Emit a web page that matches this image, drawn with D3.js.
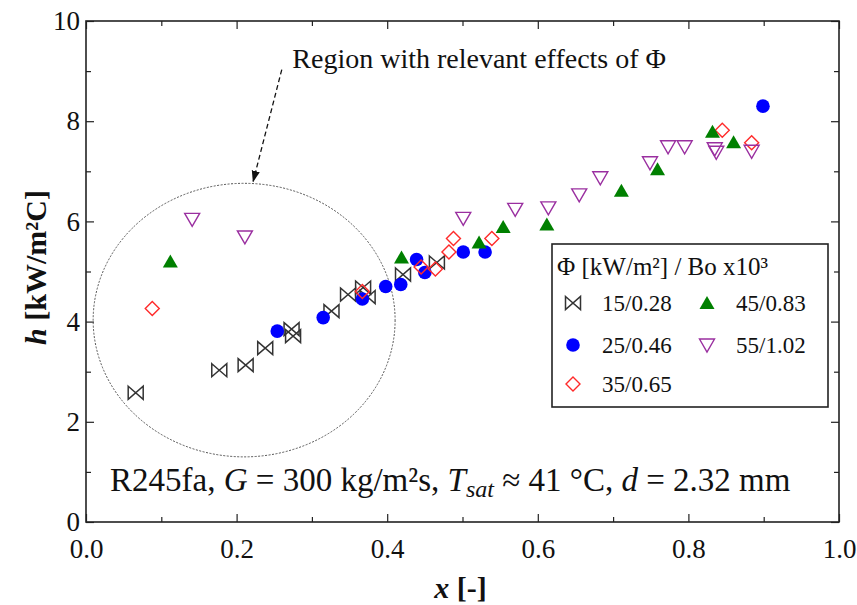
<!DOCTYPE html>
<html>
<head>
<meta charset="utf-8">
<script src="https://cdn.jsdelivr.net/npm/d3@7"></script>
<style>
  body { margin: 0; background: #fff; }
  svg text { font-family: "Liberation Serif", "Times New Roman", serif; fill: #111; }
</style>
</head>
<body>
<div id="chart"></div>
<script>
// quality x, heat transfer coefficient h [kW/m2C]
const s15 = [[0.066, 2.58], [0.177, 3.03], [0.212, 3.13], [0.238, 3.47], [0.273, 3.85], [0.275, 3.71],
  [0.326, 4.21], [0.348, 4.54], [0.368, 4.68], [0.374, 4.49], [0.421, 4.94], [0.466, 5.18]];
const s25 = [[0.254, 3.81], [0.315, 4.08], [0.367, 4.45], [0.398, 4.70], [0.418, 4.74], [0.439, 5.24],
  [0.450, 4.98], [0.501, 5.39], [0.530, 5.39], [0.899, 8.30]];
const s35 = [[0.088, 4.26], [0.367, 4.60], [0.445, 5.09], [0.464, 5.05], [0.482, 5.39], [0.488, 5.66],
  [0.539, 5.66], [0.845, 7.82], [0.884, 7.57]];
const s45 = [[0.112, 5.20], [0.419, 5.28], [0.522, 5.58], [0.554, 5.89], [0.612, 5.94], [0.711, 6.61],
  [0.759, 7.04], [0.832, 7.79], [0.860, 7.58]];
const s55 = [[0.141, 6.04], [0.211, 5.69], [0.501, 6.06], [0.570, 6.24], [0.614, 6.27], [0.655, 6.53],
  [0.683, 6.87], [0.749, 7.17], [0.773, 7.49], [0.795, 7.49], [0.835, 7.45], [0.837, 7.38], [0.884, 7.40]];

const seriesLabels = ['15/0.28', '25/0.46', '35/0.65', '45/0.83', '55/1.02'];
const xTicks = [0, 0.2, 0.4, 0.6, 0.8, 1.0];
const yTicks = [0, 2, 4, 6, 8, 10];
const xMinor = [0.1, 0.3, 0.5, 0.7, 0.9];
const yMinor = [1, 3, 5, 7, 9];

const outerWidth = 857;
const outerHeight = 605;
const margin = { top: 21, right: 18, bottom: 83, left: 86 };
const width = outerWidth - margin.left - margin.right;
const height = outerHeight - margin.top - margin.bottom;
const serif = '"Liberation Serif", "Times New Roman", serif';

const svg = d3.select('#chart').append('svg')
  .attr('width', outerWidth)
  .attr('height', outerHeight)
  .style('font-family', serif);

const g = svg.append('g')
  .attr('transform', `translate(${margin.left}, ${margin.top})`);

const x = d3.scaleLinear().domain([0, 1]).range([0, width]);
const y = d3.scaleLinear().domain([0, 10]).range([height, 0]);

// marker shapes
const shapes = {
  bowtie: 'M-7.5,-6.5L7.5,6.5L7.5,-6.5L-7.5,6.5Z',
  diamond: 'M0,-7L7,0L0,7L-7,0Z',
  triUp: 'M0,-7L7.5,6L-7.5,6Z',
  triDown: 'M-7.5,-6L7.5,-6L0,7Z'
};

const styles = [
  { data: s15, shape: 'bowtie', fill: 'none', stroke: '#333', sw: 1.5 },
  { data: s25, shape: 'circle', fill: '#0000ff', stroke: 'none', sw: 0 },
  { data: s35, shape: 'diamond', fill: 'none', stroke: '#ff2a2a', sw: 1.4 },
  { data: s45, shape: 'triUp', fill: '#008000', stroke: 'none', sw: 0 },
  { data: s55, shape: 'triDown', fill: 'none', stroke: '#9a2fa0', sw: 1.4 }
];

function drawMarker(sel, st) {
  if (st.shape === 'circle') {
    sel.append('circle').attr('r', 6.8).attr('fill', st.fill);
  } else {
    sel.append('path').attr('d', shapes[st.shape])
      .attr('fill', st.fill)
      .attr('stroke', st.stroke)
      .attr('stroke-width', st.sw)
      .attr('stroke-linejoin', 'miter');
  }
}

// axes: inward ticks on all four sides
const fmtX = d3.format('.1f');
const styleLabels = a => a.attr('font-family', serif).selectAll('text')
  .style('font-family', serif).style('font-size', '27px').attr('fill', '#222');

g.append('g').attr('transform', `translate(0, ${height})`)
  .call(d3.axisBottom(x).tickValues(xTicks).tickFormat(fmtX).tickSize(-8).tickPadding(17))
  .call(styleLabels);
g.append('g').attr('transform', `translate(0, ${height})`)
  .call(d3.axisBottom(x).tickValues(xMinor).tickFormat('').tickSize(-5));
g.append('g')
  .call(d3.axisTop(x).tickValues(xTicks).tickFormat('').tickSize(-8));
g.append('g')
  .call(d3.axisTop(x).tickValues(xMinor).tickFormat('').tickSize(-5));

g.append('g')
  .call(d3.axisLeft(y).tickValues(yTicks).tickSize(-8).tickPadding(6))
  .call(styleLabels);
g.append('g')
  .call(d3.axisLeft(y).tickValues(yMinor).tickFormat('').tickSize(-5));
g.append('g').attr('transform', `translate(${width}, 0)`)
  .call(d3.axisRight(y).tickValues(yTicks).tickFormat('').tickSize(-8));
g.append('g').attr('transform', `translate(${width}, 0)`)
  .call(d3.axisRight(y).tickValues(yMinor).tickFormat('').tickSize(-5));

g.selectAll('.domain').remove();
g.selectAll('.tick line').attr('stroke', '#222').attr('stroke-width', 1.2);

g.append('rect')
  .attr('width', width).attr('height', height)
  .attr('fill', 'none').attr('stroke', '#222').attr('stroke-width', 1.6);

// region ellipse and annotation arrow
const ell = { cx: 0.21, cy: 4.03, rx: 0.2005, ry: 2.73 };
g.append('ellipse')
  .attr('cx', x(ell.cx)).attr('cy', y(ell.cy))
  .attr('rx', x(ell.rx) - x(0)).attr('ry', y(0) - y(ell.ry))
  .attr('fill', 'none').attr('stroke', '#555').attr('stroke-width', 1)
  .attr('stroke-dasharray', '2,1.5');

svg.append('defs').append('marker')
  .attr('id', 'arrow').attr('viewBox', '0 0 10 10')
  .attr('refX', 9).attr('refY', 5)
  .attr('markerWidth', 9).attr('markerHeight', 9)
  .attr('orient', 'auto-start-reverse')
  .append('path').attr('d', 'M0,1.5L10,5L0,8.5Z').attr('fill', '#111');

const arrowFrom = [0.26, 9.03];
const arrowTo = [0.222, 6.8];
g.append('line')
  .attr('x1', x(arrowFrom[0])).attr('y1', y(arrowFrom[1]))
  .attr('x2', x(arrowTo[0])).attr('y2', y(arrowTo[1]))
  .attr('stroke', '#111').attr('stroke-width', 1.3)
  .attr('stroke-dasharray', '5,3')
  .attr('marker-end', 'url(#arrow)');

g.append('text')
  .attr('x', x(0.274)).attr('y', y(9.07))
  .style('font-size', '28px')
  .text('Region with relevant effects of Φ');

// condition label
const cond = g.append('text')
  .attr('x', x(0.032)).attr('y', y(0.62))
  .style('font-size', '33px');
cond.append('tspan').text('R245fa, ');
cond.append('tspan').style('font-style', 'italic').text('G');
cond.append('tspan').text(' = 300 kg/m²s, ');
cond.append('tspan').style('font-style', 'italic').text('T');
cond.append('tspan').style('font-style', 'italic').style('font-size', '24px').attr('dy', 6).text('sat');
cond.append('tspan').attr('dy', -6).text(' ≈ 41 °C, ');
cond.append('tspan').style('font-style', 'italic').text('d');
cond.append('tspan').text(' = 2.32 mm');

// points
styles.forEach(st => {
  g.append('g').selectAll('g')
    .data(st.data)
    .join('g')
    .attr('transform', d => `translate(${x(d[0])}, ${y(d[1])})`)
    .each(function () { drawMarker(d3.select(this), st); });
});

// axis titles
const xt = svg.append('text')
  .attr('x', margin.left + width / 2 - 2).attr('y', 598)
  .attr('text-anchor', 'middle')
  .style('font-size', '30px').style('font-weight', 'bold');
xt.append('tspan').style('font-style', 'italic').text('x');
xt.append('tspan').text('  [-]');

const yt = svg.append('text')
  .attr('transform', `translate(46, ${margin.top + height / 2 - 4}) rotate(-90)`)
  .attr('text-anchor', 'middle')
  .style('font-size', '30px').style('font-weight', 'bold');
yt.append('tspan').style('font-style', 'italic').text('h');
yt.append('tspan').text('  [kW/m²C]');

// legend
const lg = svg.append('g').attr('transform', 'translate(552, 244)');
lg.append('rect')
  .attr('width', 276).attr('height', 163)
  .attr('fill', '#fff').attr('stroke', '#222').attr('stroke-width', 1.6);
lg.append('text').attr('x', 5).attr('y', 31)
  .style('font-size', '25px')
  .text('Φ  [kW/m²] / Bo x10³');

const legendPos = [[21, 59], [21, 101], [21, 140], [155, 59], [155, 101]];
styles.forEach((st, i) => {
  const p = legendPos[i];
  const item = lg.append('g').attr('transform', `translate(${p[0]}, ${p[1]})`);
  drawMarker(item, st);
  item.append('text').attr('x', 29).attr('y', 8)
    .style('font-size', '23px')
    .text(seriesLabels[i]);
});
</script>
</body>
</html>
